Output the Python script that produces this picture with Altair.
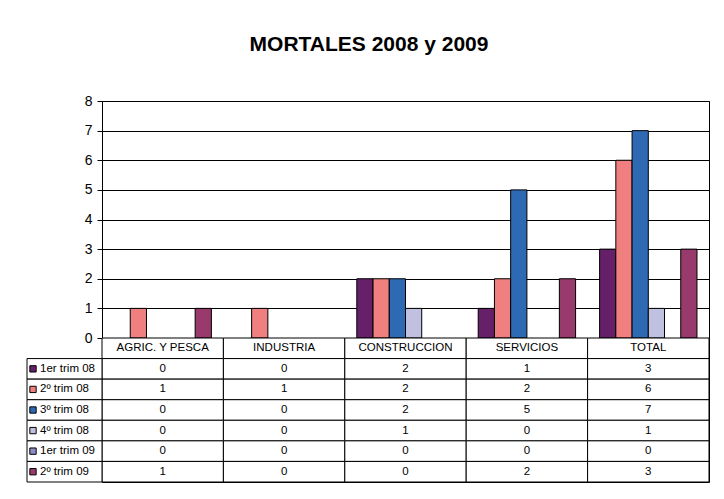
import altair as alt
import pandas as pd

categories = ["AGRIC. Y PESCA", "INDUSTRIA", "CONSTRUCCION", "SERVICIOS", "TOTAL"]
series = ["1er trim 08", "2º trim 08", "3º trim 08", "4º trim 08", "1er trim 09", "2º trim 09"]
v_1t08 = [0, 0, 2, 1, 3]
v_2t08 = [1, 1, 2, 2, 6]
v_3t08 = [0, 0, 2, 5, 7]
v_4t08 = [0, 0, 1, 0, 1]
v_1t09 = [0, 0, 0, 0, 0]
v_2t09 = [1, 0, 0, 2, 3]
colors = ["#66206a", "#f08080", "#2e69b3", "#c0c0e0", "#8c8cc8", "#993a6c"]
title_text = "MORTALES 2008 y 2009"

values = [v_1t08, v_2t08, v_3t08, v_4t08, v_1t09, v_2t09]
rows = []
for s, vals in zip(series, values):
    for c, v in zip(categories, vals):
        rows.append({"series": s, "category": c, "value": v, "row": s, "label": str(v)})
df = pd.DataFrame(rows)

header = pd.DataFrame({"category": categories, "row": ["hdr"] * len(categories), "label": categories})
cells = pd.concat([header, df[["category", "row", "label"]]], ignore_index=True)
legend_df = pd.DataFrame({"series": series, "row": series})

FONT = "Liberation Sans"
row_domain = ["hdr"] + series

x_enc = alt.X("category:N", sort=categories,
              scale=alt.Scale(domain=categories, paddingInner=0, paddingOuter=0), axis=None)
color_scale = alt.Scale(domain=series, range=colors)

bars = alt.Chart(df).transform_filter("datum.value > 0").mark_bar(
    stroke="black", strokeWidth=1
).encode(
    x=x_enc,
    xOffset=alt.XOffset("series:N", sort=series,
                        scale=alt.Scale(domain=series, paddingInner=0, paddingOuter=0.74)),
    y=alt.Y("value:Q", scale=alt.Scale(domain=[0, 8], nice=False),
            axis=alt.Axis(values=list(range(9)), grid=True, gridColor="black", gridWidth=1,
                          domainColor="black", tickColor="black", tickSize=5, labelPadding=5,
                          labelFontSize=14, labelColor="black", labelFont=FONT, title=None)),
    color=alt.Color("series:N", scale=color_scale, legend=None),
).properties(width=607, height=237)

y_tab = alt.Y("row:N", sort=row_domain,
              scale=alt.Scale(domain=row_domain, paddingInner=0, paddingOuter=0), axis=None)

cell_rect = alt.Chart(cells).mark_rect(fill="white", stroke="black", strokeWidth=1).encode(
    x=x_enc, y=y_tab)
cell_text = alt.Chart(cells).mark_text(fontSize=11.5, font=FONT, color="black").encode(
    x=x_enc, y=y_tab, text="label:N")
leg_rect = alt.Chart(legend_df).mark_rect(fill="white", stroke="black", strokeWidth=1).encode(
    x=alt.value(-75), x2=alt.value(0), y=y_tab)
leg_sw = alt.Chart(legend_df).mark_square(size=40, opacity=1, stroke="black", strokeWidth=1).encode(
    x=alt.value(-69), y=y_tab, color=alt.Color("series:N", scale=color_scale, legend=None))
leg_txt = alt.Chart(legend_df).mark_text(fontSize=11.5, font=FONT, color="black", align="left").encode(
    x=alt.value(-62), y=y_tab, text="series:N")

table = alt.layer(cell_rect, cell_text, leg_rect, leg_sw, leg_txt).properties(width=607, height=144)

chart = alt.vconcat(bars, table, spacing=0, bounds="flush").properties(
    title=alt.TitleParams(title_text, fontSize=21, font=FONT, fontWeight="bold", color="black",
                          anchor="middle", offset=39, dx=1),
    padding={"left": 18, "top": 25, "right": 1, "bottom": 2},
    background="white",
).configure_view(stroke="black", strokeWidth=1).configure_concat(spacing=0)

chart.save("out.html", embed_options={"renderer": "svg", "actions": False})
